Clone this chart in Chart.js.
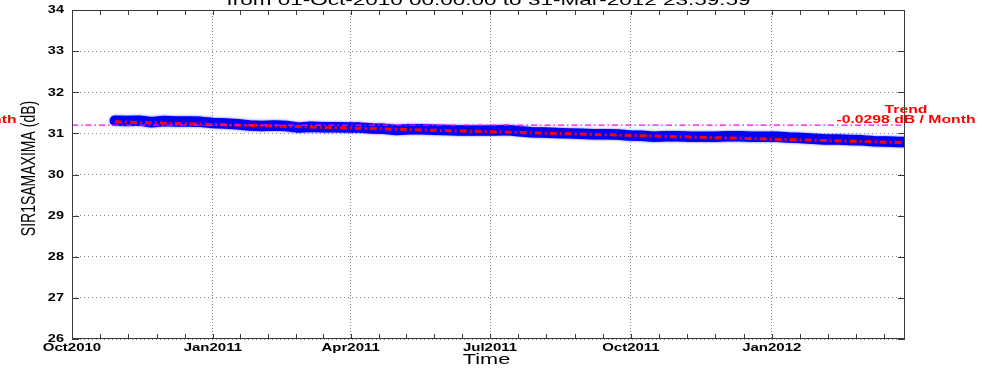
<!DOCTYPE html>
<html>
<head>
<meta charset="utf-8">
<script src="https://cdn.jsdelivr.net/npm/chart.js@4.4.1/dist/chart.umd.min.js"></script>
<style>
  html, body { margin: 0; padding: 0; background: #ffffff; }
  canvas { display: block; }
</style>
</head>
<body>
<canvas id="c" width="989" height="368"></canvas>
<script>
// Days counted from 01-Oct-2010 00:00:00
const sampleDay = [
  28, 36, 44, 52, 60, 68, 76, 84, 92, 100, 108, 116, 124, 132, 140, 148,
  156, 164, 172, 180, 188, 196, 204, 212, 220, 228, 236, 244, 252, 260, 268, 276,
  284, 292, 300, 308, 316, 324, 332, 340, 348, 356, 364, 372, 380, 388, 396, 404,
  412, 420, 428, 436, 444, 452, 460, 468, 476, 484, 492, 500, 508, 516, 524, 532,
  540, 544
];
// SIR1SAMAXIMA level (dB) at each sample day
const sirLevel = [
  31.31, 31.30, 31.31, 31.27, 31.30, 31.29, 31.29, 31.28, 31.25, 31.24, 31.22, 31.19, 31.18, 31.19, 31.18, 31.14,
  31.16, 31.15, 31.15, 31.14, 31.14, 31.12, 31.11, 31.08, 31.10, 31.10, 31.09, 31.08, 31.07, 31.07, 31.07, 31.07,
  31.08, 31.05, 31.03, 31.02, 31.01, 31.00, 30.99, 30.98, 30.98, 30.97, 30.95, 30.94, 30.92, 30.93, 30.93, 30.92,
  30.92, 30.92, 30.93, 30.93, 30.92, 30.92, 30.92, 30.90, 30.89, 30.87, 30.85, 30.85, 30.84, 30.83, 30.81, 30.80,
  30.79, 30.79
];

const majorTickDay = [0, 92, 182, 273, 365, 457];
const majorTickLabel = ['Oct2010', 'Jan2011', 'Apr2011', 'Jul2011', 'Oct2011', 'Jan2012'];
const yTickValue = [26, 27, 28, 29, 30, 31, 32, 33, 34];

const meanLevel = 31.2;        // reference level (dB)
const trendStart = 31.28;      // fitted level at first sample (dB)
const trendPerMonth = -0.0298; // fitted slope (dB / month)
const daysPerMonth = 30.4375;

const titleText = 'from 01-Oct-2010 00:00:00 to 31-Mar-2012 23:59:59';
const yTitle = 'SIR1SAMAXIMA (dB)';
const xTitle = 'Time';

const dayMin = 0, dayMax = 544;

const levelPoints = sampleDay.map((d, i) => ({ x: d, y: sirLevel[i] }));
const firstDay = sampleDay[0], lastDay = sampleDay[sampleDay.length - 1];
const trendPoints = [
  { x: firstDay, y: trendStart },
  { x: lastDay, y: trendStart + trendPerMonth * (lastDay - firstDay) / daysPerMonth }
];
const meanPoints = [{ x: dayMin, y: meanLevel }, { x: dayMax, y: meanLevel }];

const FONT = '"Liberation Sans", Arial, Helvetica, sans-serif';

// Text drawn wide (horizontal stretch), optionally rotated
function wideText(ctx, text, px, py, sx, align, baseline, font, color, rot) {
  ctx.save();
  ctx.translate(px, py);
  ctx.scale(sx, 1);
  if (rot) ctx.rotate(rot);
  ctx.font = font;
  ctx.fillStyle = color;
  ctx.textAlign = align;
  ctx.textBaseline = baseline;
  ctx.fillText(text, 0, 0);
  ctx.restore();
}

// Soft light-blue edge around the thick measurement trace
const traceHalo = {
  id: 'traceHalo',
  beforeDatasetDraw(chart, args) {
    if (args.index !== 2) return;
    const ctx = chart.ctx;
    ctx.save();
    ctx.shadowColor = 'rgba(70, 70, 255, 0.9)';
    ctx.shadowBlur = 2.5;
  },
  afterDatasetDraw(chart, args) {
    if (args.index !== 2) return;
    chart.ctx.restore();
  }
};

const frame = {
  id: 'frame',
  afterDraw(chart) {
    const { ctx, chartArea: a, scales: { x, y } } = chart;
    ctx.save();

    // axes box
    ctx.strokeStyle = '#3a3a3a';
    ctx.lineWidth = 1;
    ctx.strokeRect(a.left + 0.5, a.top + 0.5, a.width - 1, a.height - 1);

    // x ticks (major + 4 minor per interval), bottom and top
    ctx.beginPath();
    const xt = [];
    majorTickDay.forEach((d, i) => {
      xt.push(d);
      const next = i < majorTickDay.length - 1 ? majorTickDay[i + 1] : d + (d - majorTickDay[i - 1]);
      const step = (next - d) / 5;
      for (let k = 1; k < 5; k++) {
        const v = d + k * step;
        if (v < dayMax) xt.push(v);
      }
    });
    xt.forEach(v => {
      const px = Math.round(x.getPixelForValue(v)) + 0.5;
      ctx.moveTo(px, a.bottom); ctx.lineTo(px, a.bottom - 5);
      ctx.moveTo(px, a.top); ctx.lineTo(px, a.top + 5);
    });
    // y ticks, left and right
    yTickValue.forEach(v => {
      const py = Math.round(y.getPixelForValue(v)) + 0.5;
      ctx.moveTo(a.left, py); ctx.lineTo(a.left + 7, py);
      ctx.moveTo(a.right, py); ctx.lineTo(a.right - 7, py);
    });
    ctx.stroke();

    // tick labels
    const tickFont = 'bold 10px ' + FONT;
    majorTickDay.forEach((d, i) => {
      wideText(ctx, majorTickLabel[i], x.getPixelForValue(d), a.bottom + 12, 1.5, 'center', 'alphabetic', tickFont, '#000');
    });
    yTickValue.forEach(v => {
      wideText(ctx, String(v), a.left - 8, y.getPixelForValue(v) + 0.5, 1.45, 'right', 'middle', tickFont, '#000');
    });

    // axis titles
    wideText(ctx, xTitle, (a.left + a.right) / 2 - 2, 364, 1.55, 'center', 'alphabetic', '14px ' + FONT, '#000');
    wideText(ctx, yTitle, 35, (a.top + a.bottom) / 2 - 6, 1.45, 'center', 'alphabetic', '14px ' + FONT, '#000', -Math.PI / 2);

    // title
    wideText(ctx, titleText, (a.left + a.right) / 2, 5, 1.5, 'center', 'alphabetic', '15px ' + FONT, '#000');

    // trend annotation
    const slopeText = trendPerMonth.toFixed(4) + ' dB / Month';
    const trendFont = 'bold 10.5px ' + FONT;
    [a.right + 1, -53].forEach(cx => {
      wideText(ctx, 'Trend', cx, 112.5, 1.5, 'center', 'alphabetic', trendFont, '#ff0000');
      wideText(ctx, slopeText, cx, 122.5, 1.5, 'center', 'alphabetic', trendFont, '#ff0000');
    });

    ctx.restore();
  }
};

new Chart(document.getElementById('c'), {
  type: 'line',
  data: {
    datasets: [
      {
        label: 'mean',
        data: meanPoints,
        borderColor: '#ff00ff',
        borderWidth: 1.2,
        borderDash: [6, 3, 1.5, 3],
        pointRadius: 0,
        fill: false
      },
      {
        label: 'trend',
        data: trendPoints,
        borderColor: '#ff0000',
        borderWidth: 3,
        borderDash: [7, 3, 2, 3],
        pointRadius: 0,
        fill: false
      },
      {
        label: 'SIR1SAMAXIMA',
        data: levelPoints,
        borderColor: '#0000ff',
        borderWidth: 10.5,
        borderCapStyle: 'round',
        borderJoinStyle: 'round',
        pointRadius: 0,
        tension: 0,
        fill: false
      }
    ]
  },
  options: {
    responsive: false,
    animation: false,
    devicePixelRatio: 1,
    layout: { padding: { left: 72, right: 84, top: 10, bottom: 29 } },
    plugins: { legend: { display: false }, tooltip: { enabled: false } },
    scales: {
      x: {
        type: 'linear',
        min: dayMin,
        max: dayMax,
        ticks: { display: false },
        grid: { color: '#8c8c8c', lineWidth: 1, drawTicks: false },
        border: { display: false, dash: [1, 2] },
        afterBuildTicks: s => { s.ticks = majorTickDay.map(v => ({ value: v })); },
        afterFit: s => { s.height = 0; }
      },
      y: {
        type: 'linear',
        min: 26,
        max: 34,
        ticks: { display: false },
        grid: { color: '#8c8c8c', lineWidth: 1, drawTicks: false },
        border: { display: false, dash: [1, 3] },
        afterBuildTicks: s => { s.ticks = yTickValue.map(v => ({ value: v })); },
        afterFit: s => { s.width = 0; }
      }
    }
  },
  plugins: [traceHalo, frame]
});
</script>
</body>
</html>
